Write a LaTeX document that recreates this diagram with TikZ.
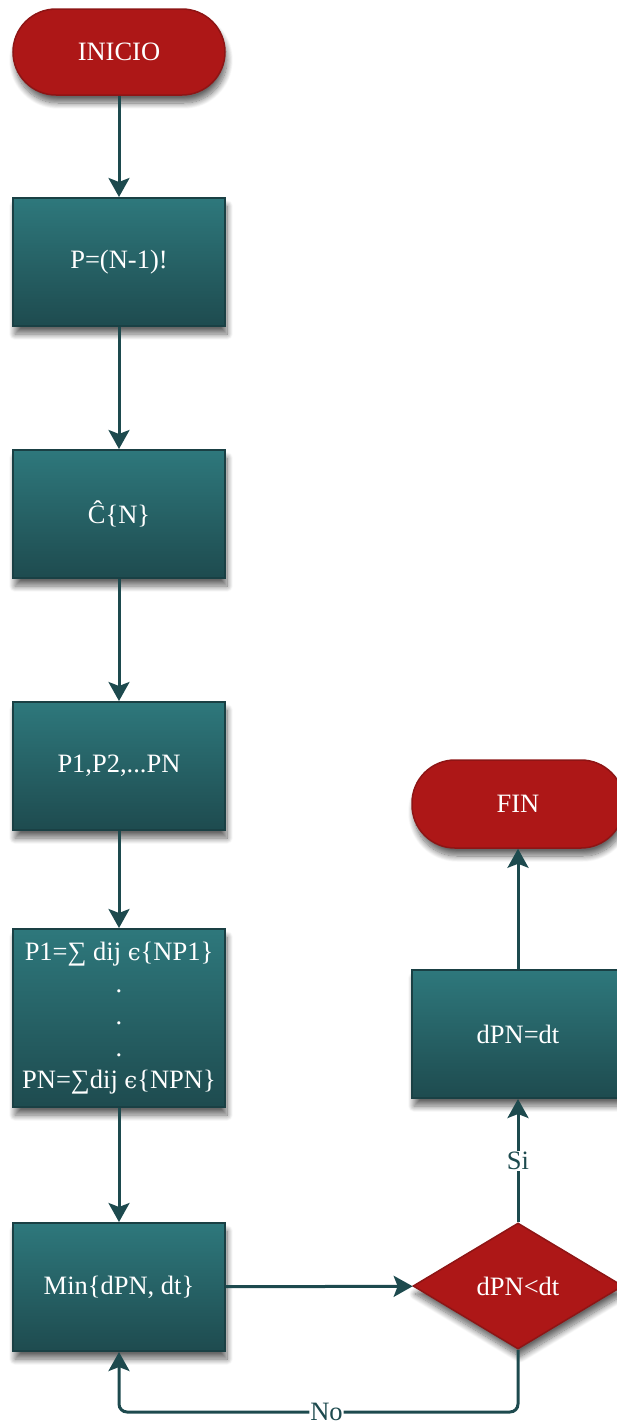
\documentclass[tikz,border=0pt]{standalone}
\usepackage{fontspec}
\setmainfont{Liberation Serif}
\newfontfamily\symfont{DejaVu Serif}
\usetikzlibrary{shapes.geometric,shadows.blur,arrows.meta}

\definecolor{termred}{HTML}{AD1717}
\definecolor{termedge}{HTML}{8E1515}
\definecolor{boxtop}{HTML}{2E787C}
\definecolor{boxbot}{HTML}{1E4B4F}
\definecolor{boxedge}{HTML}{1A4044}
\definecolor{linkcol}{HTML}{1D4A4E}

\tikzset{
  base/.style={inner sep=0pt, align=center, text=white,
    font=\fontsize{26.5}{32}\selectfont,
    blur shadow={shadow xshift=2pt, shadow yshift=-8pt,
      shadow blur steps=12, shadow opacity=60, shadow blur radius=6pt}},
  terminal/.style={base, draw=termedge, line width=1.5pt, fill=termred,
    rounded corners=43pt, minimum width=212pt, minimum height=86pt},
  process/.style={base, draw=boxedge, line width=2pt,
    top color=boxtop, bottom color=boxbot,
    minimum width=212pt, minimum height=128pt},
  decision/.style={base, shape=diamond, draw=termedge, line width=1.5pt,
    fill=termred, minimum width=210pt, minimum height=126pt},
  link/.style={draw=linkcol, line width=3pt,
    -{Stealth[length=19pt, width=21pt, inset=4pt]}},
  tag/.style={fill=white, inner sep=1pt, text=linkcol,
    font=\fontsize{26.5}{32}\selectfont}
}

\begin{document}
\begin{tikzpicture}[x=1pt, y=-1pt]
\useasboundingbox (0,0) rectangle (617,1425);

% main column
\node[terminal] (inicio) at (119,52) {INICIO};
\node[process] (perm) at (119,262) {P=(N-1)!};
\node[process] (comb) at (119,514) {Ĉ\{N\}};
\node[process] (paths) at (119,766) {P1,P2,...PN};
\node[process, minimum height=178pt] (sums) at (119,1018)
  {P1=∑ dij {\symfont\fontsize{23}{32}\selectfont ϵ}\{NP1\}\\.\\.\\.\\PN=∑dij {\symfont\fontsize{23}{32}\selectfont ϵ}\{NPN\}};
\node[process] (minim) at (119,1287) {Min\{dPN, dt\}};

% right column
\node[decision] (test) at (518,1286) {dPN<dt};
\node[process] (assign) at (518,1034) {dPN=dt};
\node[terminal, minimum height=88pt] (fin) at (518,804) {FIN};

% connectors
\draw[link] (inicio) -- (perm);
\draw[link] (perm) -- (comb);
\draw[link] (comb) -- (paths);
\draw[link] (paths) -- (sums);
\draw[link] (sums) -- (minim);
\draw[link] (minim) -- (test);
\draw[link] (test) -- node[tag] {Si} (assign);
\draw[link] (assign) -- (fin);
\draw[link, rounded corners=8pt] (test.south) -- (518,1412)
  -- node[tag, pos=0.48] {No} (119,1412) -- (minim.south);
\end{tikzpicture}
\end{document}
